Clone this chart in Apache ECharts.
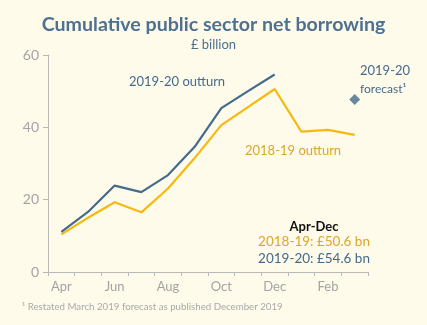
<!DOCTYPE html>
<html><head><meta charset="utf-8">
<script src="https://cdn.jsdelivr.net/npm/echarts@6/dist/echarts.min.js"></script>
<style>html,body{margin:0;padding:0;background:#fffbea;}#c{width:427px;height:325px;}</style>
</head><body><div id="c"></div>
<script>
const months = ['Apr','May','Jun','Jul','Aug','Sep','Oct','Nov','Dec','Jan','Feb','Mar'];
const outturn1920 = [11.1, 16.6, 23.9, 22.1, 26.8, 34.6, 45.3, 50.0, 54.6, null, null, null];
const outturn1819 = [10.4, 15.0, 19.3, 16.5, 23.1, 31.5, 40.6, 45.6, 50.6, 38.8, 39.3, 37.9];
const forecast1920 = [null, null, null, null, null, null, null, null, null, null, null, 47.7];
const yTicks = [0, 20, 40, 60];

const blue = '#436b8c', yellow = '#f6b90f', gold = '#dba62a', gray = '#a3a3a3';
const font = 'Lato';
const chart = echarts.init(document.getElementById('c'));
chart.setOption({
  backgroundColor: '#fffbea',
  animation: false,
  textStyle: {fontFamily: font},
  title: [
    {text: 'Cumulative public sector net borrowing', left: 'center', top: 10,
     textStyle: {fontFamily: font, fontSize: 19.6, fontWeight: 'bold', color: '#4d7191'}},
    {text: '£ billion', left: 'center', top: 33,
     textStyle: {fontFamily: font, fontSize: 13, fontWeight: 'normal', color: '#4a6f8e'}}
  ],
  grid: {left: 48, right: 59, top: 55, bottom: 53},
  xAxis: {
    type: 'category', data: months, boundaryGap: true,
    axisLine: {lineStyle: {color: '#b8b8b8', width: 1}},
    axisTick: {show: true, length: 4, alignWithLabel: false, interval: 0, lineStyle: {color: '#b8b8b8'}},
    axisLabel: {interval: 1, color: gray, fontSize: 13, margin: 8, fontFamily: font}
  },
  yAxis: {
    type: 'value', min: yTicks[0], max: yTicks[yTicks.length-1], interval: 20,
    axisLine: {show: true, lineStyle: {color: '#b8b8b8', width: 1}},
    axisTick: {show: true, length: 5, lineStyle: {color: '#b8b8b8'}},
    splitLine: {show: false},
    axisLabel: {color: gray, fontSize: 14, margin: 9, fontFamily: font}
  },
  series: [
    {type: 'line', data: outturn1819, symbol: 'none', lineStyle: {color: yellow, width: 2.2}, z: 2},
    {type: 'line', data: outturn1920, symbol: 'none', lineStyle: {color: blue, width: 2.2}, z: 3},
    {type: 'scatter', data: forecast1920, symbol: 'diamond', symbolSize: 11, itemStyle: {color: blue}, z: 4}
  ],
  graphic: [
    {type: 'text', left: 129, top: 75, style: {text: '2019-20 outturn', fill: blue, fontSize: 13, fontFamily: font}},
    {type: 'text', left: 245, top: 144, style: {text: '2018-19 outturn', fill: gold, fontSize: 13, fontFamily: font}},
    {type: 'text', left: 360, top: 64, style: {text: '2019-20', fill: blue, fontSize: 13, fontFamily: font}},
    {type: 'text', left: 360, top: 83, style: {text: 'forecast¹', fill: blue, fontSize: 12, fontFamily: font}},
    {type: 'text', x: 314, y: 220, style: {text: 'Apr-Dec', fill: '#111', fontSize: 13, fontWeight: 'bold', fontFamily: font, align: 'center'}},
    {type: 'text', x: 314, y: 235, style: {text: '2018-19: £50.6 bn', fill: gold, fontSize: 13.5, fontFamily: font, align: 'center'}},
    {type: 'text', x: 314, y: 252, style: {text: '2019-20: £54.6 bn', fill: blue, fontSize: 13.5, fontFamily: font, align: 'center'}},
    {type: 'text', left: 22, top: 302, style: {text: '¹ Restated March 2019 forecast as published December 2019', fill: '#a8a8a8', fontSize: 9.7, fontFamily: font}}
  ]
});
</script></body></html>
